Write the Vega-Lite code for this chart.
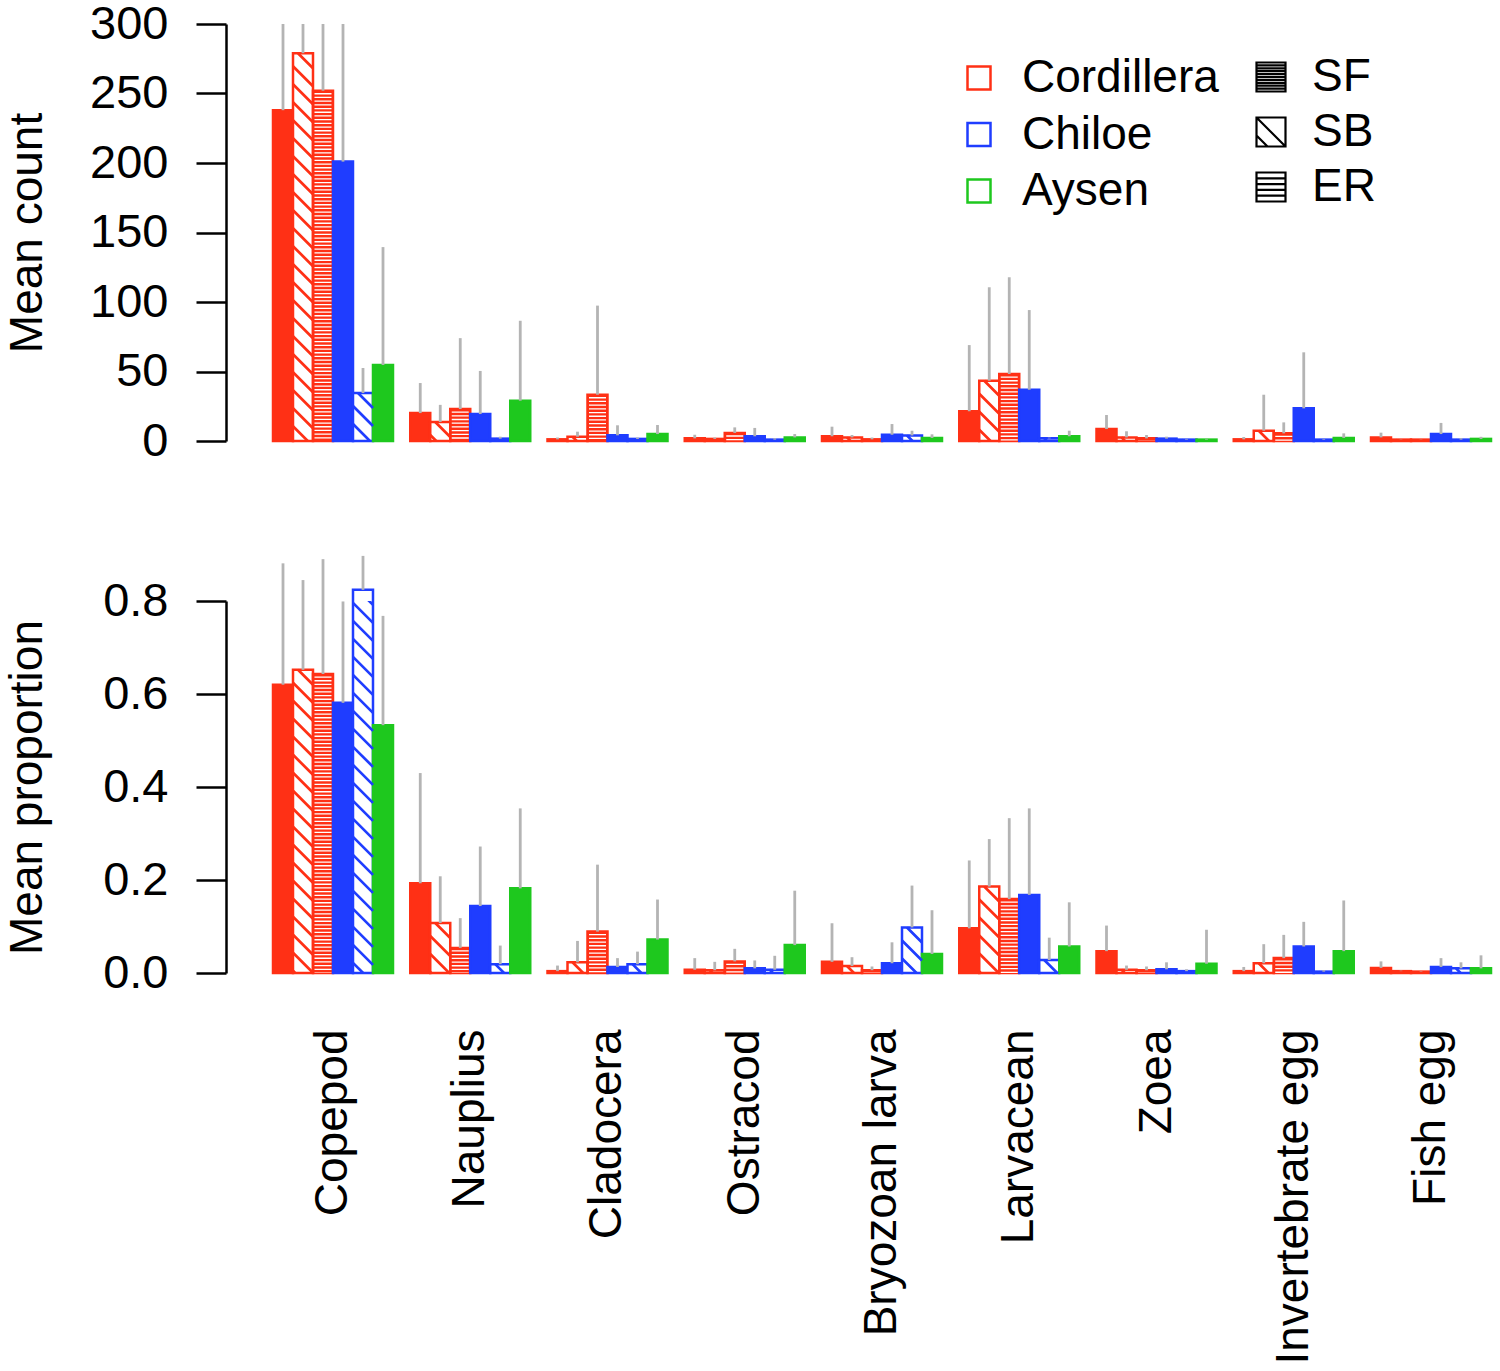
{
  "$schema": "https://vega.github.io/schema/vega-lite/v6.json",
  "background": "white",
  "padding": {"left": 4, "top": 0, "right": 0, "bottom": 0},
  "config": {
    "font": "Liberation Sans",
    "view": {"stroke": null},
    "axis": {
      "labelFontSize": 47, "titleFontSize": 46, "titleFontWeight": "normal",
      "labelColor": "black", "titleColor": "black", "grid": false,
      "domainColor": "black", "tickColor": "black", "domainWidth": 2.5, "tickWidth": 2.5
    },
    "legend": {"labelFontSize": 46, "labelColor": "black", "labelFont": "Liberation Sans", "labelLimit": 0}
  },
  "datasets": {
    "zoo": [
      {"taxon": "Copepod", "region": "Cordillera", "site": "SF", "series": "Cordillera SF", "count": 238, "count_hi": 330, "prop": 0.62, "prop_hi": 0.881},
      {"taxon": "Copepod", "region": "Cordillera", "site": "SB", "series": "Cordillera SB", "count": 279, "count_hi": 340, "prop": 0.652, "prop_hi": 0.845},
      {"taxon": "Copepod", "region": "Cordillera", "site": "ER", "series": "Cordillera ER", "count": 252, "count_hi": 335, "prop": 0.643, "prop_hi": 0.89},
      {"taxon": "Copepod", "region": "Chiloe", "site": "SF", "series": "Chiloe SF", "count": 201, "count_hi": 360, "prop": 0.581, "prop_hi": 0.799},
      {"taxon": "Copepod", "region": "Chiloe", "site": "SB", "series": "Chiloe SB", "count": 34.5, "count_hi": 52.5, "prop": 0.824, "prop_hi": 0.897},
      {"taxon": "Copepod", "region": "Aysen", "site": "SF", "series": "Aysen SF", "count": 54.7, "count_hi": 139.5, "prop": 0.533, "prop_hi": 0.768},

      {"taxon": "Nauplius", "region": "Cordillera", "site": "SF", "series": "Cordillera SF", "count": 20.1, "count_hi": 41.7, "prop": 0.193, "prop_hi": 0.43},
      {"taxon": "Nauplius", "region": "Cordillera", "site": "SB", "series": "Cordillera SB", "count": 13.7, "count_hi": 26, "prop": 0.1075, "prop_hi": 0.208},
      {"taxon": "Nauplius", "region": "Cordillera", "site": "ER", "series": "Cordillera ER", "count": 23, "count_hi": 74, "prop": 0.054, "prop_hi": 0.118},
      {"taxon": "Nauplius", "region": "Chiloe", "site": "SF", "series": "Chiloe SF", "count": 19.4, "count_hi": 50.4, "prop": 0.144, "prop_hi": 0.272},
      {"taxon": "Nauplius", "region": "Chiloe", "site": "SB", "series": "Chiloe SB", "count": 1.7, "count_hi": 3.1, "prop": 0.019, "prop_hi": 0.059},
      {"taxon": "Nauplius", "region": "Aysen", "site": "SF", "series": "Aysen SF", "count": 29, "count_hi": 86.5, "prop": 0.182, "prop_hi": 0.354},

      {"taxon": "Cladocera", "region": "Cordillera", "site": "SF", "series": "Cordillera SF", "count": 1.2, "count_hi": 2.5, "prop": 0.004, "prop_hi": 0.016},
      {"taxon": "Cladocera", "region": "Cordillera", "site": "SB", "series": "Cordillera SB", "count": 3.1, "count_hi": 6.7, "prop": 0.023, "prop_hi": 0.069},
      {"taxon": "Cladocera", "region": "Cordillera", "site": "ER", "series": "Cordillera ER", "count": 33.3, "count_hi": 97.4, "prop": 0.089, "prop_hi": 0.233},
      {"taxon": "Cladocera", "region": "Chiloe", "site": "SF", "series": "Chiloe SF", "count": 4.1, "count_hi": 11.3, "prop": 0.013, "prop_hi": 0.032},
      {"taxon": "Cladocera", "region": "Chiloe", "site": "SB", "series": "Chiloe SB", "count": 1.5, "count_hi": 2.5, "prop": 0.019, "prop_hi": 0.046},
      {"taxon": "Cladocera", "region": "Aysen", "site": "SF", "series": "Aysen SF", "count": 5, "count_hi": 11.5, "prop": 0.072, "prop_hi": 0.158},

      {"taxon": "Ostracod", "region": "Cordillera", "site": "SF", "series": "Cordillera SF", "count": 1.9, "count_hi": 4.5, "prop": 0.007, "prop_hi": 0.032},
      {"taxon": "Ostracod", "region": "Cordillera", "site": "SB", "series": "Cordillera SB", "count": 1.5, "count_hi": 2.5, "prop": 0.006, "prop_hi": 0.024},
      {"taxon": "Ostracod", "region": "Cordillera", "site": "ER", "series": "Cordillera ER", "count": 5.8, "count_hi": 9.8, "prop": 0.025, "prop_hi": 0.052},
      {"taxon": "Ostracod", "region": "Chiloe", "site": "SF", "series": "Chiloe SF", "count": 3.4, "count_hi": 9.4, "prop": 0.01, "prop_hi": 0.027},
      {"taxon": "Ostracod", "region": "Chiloe", "site": "SB", "series": "Chiloe SB", "count": 1, "count_hi": 2, "prop": 0.007, "prop_hi": 0.037},
      {"taxon": "Ostracod", "region": "Aysen", "site": "SF", "series": "Aysen SF", "count": 2.6, "count_hi": 5, "prop": 0.06, "prop_hi": 0.177},

      {"taxon": "Bryozoan larva", "region": "Cordillera", "site": "SF", "series": "Cordillera SF", "count": 3.4, "count_hi": 10.3, "prop": 0.024, "prop_hi": 0.107},
      {"taxon": "Bryozoan larva", "region": "Cordillera", "site": "SB", "series": "Cordillera SB", "count": 2.6, "count_hi": 4.3, "prop": 0.015, "prop_hi": 0.034},
      {"taxon": "Bryozoan larva", "region": "Cordillera", "site": "ER", "series": "Cordillera ER", "count": 1.2, "count_hi": 2.5, "prop": 0.006, "prop_hi": 0.014},
      {"taxon": "Bryozoan larva", "region": "Chiloe", "site": "SF", "series": "Chiloe SF", "count": 4.5, "count_hi": 12.2, "prop": 0.021, "prop_hi": 0.066},
      {"taxon": "Bryozoan larva", "region": "Chiloe", "site": "SB", "series": "Chiloe SB", "count": 4, "count_hi": 7.4, "prop": 0.098, "prop_hi": 0.188},
      {"taxon": "Bryozoan larva", "region": "Aysen", "site": "SF", "series": "Aysen SF", "count": 2.2, "count_hi": 4.8, "prop": 0.041, "prop_hi": 0.135},

      {"taxon": "Larvacean", "region": "Cordillera", "site": "SF", "series": "Cordillera SF", "count": 21.4, "count_hi": 69, "prop": 0.096, "prop_hi": 0.242},
      {"taxon": "Larvacean", "region": "Cordillera", "site": "SB", "series": "Cordillera SB", "count": 43.4, "count_hi": 110.6, "prop": 0.186, "prop_hi": 0.288},
      {"taxon": "Larvacean", "region": "Cordillera", "site": "ER", "series": "Cordillera ER", "count": 48.2, "count_hi": 117.8, "prop": 0.159, "prop_hi": 0.333},
      {"taxon": "Larvacean", "region": "Chiloe", "site": "SF", "series": "Chiloe SF", "count": 36.9, "count_hi": 94.2, "prop": 0.168, "prop_hi": 0.354},
      {"taxon": "Larvacean", "region": "Chiloe", "site": "SB", "series": "Chiloe SB", "count": 1.9, "count_hi": 2.4, "prop": 0.028, "prop_hi": 0.076},
      {"taxon": "Larvacean", "region": "Aysen", "site": "SF", "series": "Aysen SF", "count": 3.4, "count_hi": 7.4, "prop": 0.057, "prop_hi": 0.152},

      {"taxon": "Zoea", "region": "Cordillera", "site": "SF", "series": "Cordillera SF", "count": 8.6, "count_hi": 18.7, "prop": 0.047, "prop_hi": 0.102},
      {"taxon": "Zoea", "region": "Cordillera", "site": "SB", "series": "Cordillera SB", "count": 2.6, "count_hi": 7, "prop": 0.007, "prop_hi": 0.016},
      {"taxon": "Zoea", "region": "Cordillera", "site": "ER", "series": "Cordillera ER", "count": 1.9, "count_hi": 4.3, "prop": 0.006, "prop_hi": 0.014},
      {"taxon": "Zoea", "region": "Chiloe", "site": "SF", "series": "Chiloe SF", "count": 1.7, "count_hi": 3.1, "prop": 0.008, "prop_hi": 0.023},
      {"taxon": "Zoea", "region": "Chiloe", "site": "SB", "series": "Chiloe SB", "count": 1, "count_hi": 1.5, "prop": 0.004, "prop_hi": 0.008},
      {"taxon": "Zoea", "region": "Aysen", "site": "SF", "series": "Aysen SF", "count": 1, "count_hi": 1.5, "prop": 0.02, "prop_hi": 0.093},

      {"taxon": "Invertebrate egg", "region": "Cordillera", "site": "SF", "series": "Cordillera SF", "count": 1.2, "count_hi": 2.9, "prop": 0.004, "prop_hi": 0.013},
      {"taxon": "Invertebrate egg", "region": "Cordillera", "site": "SB", "series": "Cordillera SB", "count": 7.4, "count_hi": 33.3, "prop": 0.021, "prop_hi": 0.062},
      {"taxon": "Invertebrate egg", "region": "Cordillera", "site": "ER", "series": "Cordillera ER", "count": 5.5, "count_hi": 13.4, "prop": 0.032, "prop_hi": 0.082},
      {"taxon": "Invertebrate egg", "region": "Chiloe", "site": "SF", "series": "Chiloe SF", "count": 23.5, "count_hi": 63.8, "prop": 0.057, "prop_hi": 0.11},
      {"taxon": "Invertebrate egg", "region": "Chiloe", "site": "SB", "series": "Chiloe SB", "count": 1, "count_hi": 1.5, "prop": 0.003, "prop_hi": 0.006},
      {"taxon": "Invertebrate egg", "region": "Aysen", "site": "SF", "series": "Aysen SF", "count": 2.2, "count_hi": 5.5, "prop": 0.047, "prop_hi": 0.156},

      {"taxon": "Fish egg", "region": "Cordillera", "site": "SF", "series": "Cordillera SF", "count": 2.6, "count_hi": 6, "prop": 0.011, "prop_hi": 0.025},
      {"taxon": "Fish egg", "region": "Cordillera", "site": "SB", "series": "Cordillera SB", "count": 1, "count_hi": 1.2, "prop": 0.004, "prop_hi": 0.005},
      {"taxon": "Fish egg", "region": "Cordillera", "site": "ER", "series": "Cordillera ER", "count": 1, "count_hi": 1.2, "prop": 0.003, "prop_hi": 0.004},
      {"taxon": "Fish egg", "region": "Chiloe", "site": "SF", "series": "Chiloe SF", "count": 5, "count_hi": 13, "prop": 0.013, "prop_hi": 0.032},
      {"taxon": "Fish egg", "region": "Chiloe", "site": "SB", "series": "Chiloe SB", "count": 1, "count_hi": 2, "prop": 0.01, "prop_hi": 0.023},
      {"taxon": "Fish egg", "region": "Aysen", "site": "SF", "series": "Aysen SF", "count": 1.5, "count_hi": 3, "prop": 0.01, "prop_hi": 0.038}
    ]
  },
  "resolve": {"scale": {"fill": "independent", "stroke": "independent", "shape": "independent", "color": "independent"}},
  "bounds": "flush",
  "spacing": 160,
  "vconcat": [
    {
      "width": 1218,
      "height": 417,
      "data": {"name": "zoo"},
      "encoding": {
        "x": {
          "field": "taxon", "type": "nominal", "axis": null,
          "scale": {"domain": ["Copepod", "Nauplius", "Cladocera", "Ostracod", "Bryozoan larva", "Larvacean", "Zoea", "Invertebrate egg", "Fish egg"], "paddingInner": 0.1257, "paddingOuter": 0}
        },
        "xOffset": {
          "field": "series", "type": "nominal",
          "scale": {"domain": ["Cordillera SF", "Cordillera SB", "Cordillera ER", "Chiloe SF", "Chiloe SB", "Aysen SF"], "paddingInner": 0, "paddingOuter": 0}
        },
        "y": {
          "field": "count", "type": "quantitative", "stack": null,
          "scale": {"domain": [0, 300], "nice": false, "clamp": true},
          "axis": {"title": "Mean count", "values": [0, 50, 100, 150, 200, 250, 300], "offset": 47, "tickSize": 30, "labelPadding": 28, "titlePadding": 38}
        }
      },
      "layer": [
        {
          "mark": {"type": "bar", "strokeWidth": 2.5, "opacity": 1},
          "encoding": {
            "fill": {
              "condition": [
                {"test": "datum.site === 'SB'", "value": "white"},
                {"test": "datum.region === 'Cordillera'", "value": "#ff3015"},
                {"test": "datum.region === 'Chiloe'", "value": "#1f3dff"}
              ],
              "value": "#1ec81e"
            },
            "stroke": {
              "condition": [
                {"test": "datum.region === 'Cordillera'", "value": "#ff3015"},
                {"test": "datum.region === 'Chiloe'", "value": "#1f3dff"}
              ],
              "value": "#1ec81e"
            }
          }
        },
        {
          "transform": [{"filter": "datum.site === 'ER'"}],
          "mark": {"type": "rule", "color": "white", "strokeWidth": 17, "strokeDash": [1.3, 2.4], "strokeDashOffset": 1.3},
          "encoding": {"y2": {"datum": 0}}
        },
        {
          "transform": [{"filter": "datum.site === 'SB'"}],
          "mark": {"type": "point", "clip": true, "filled": false, "size": 400, "strokeWidth": 2.7, "opacity": 1,
            "shape": "M-0.5,0L1,1.5M-1,1.3L1,3.3M-1,3.1L1,5.1M-1,4.9L1,6.9M-1,6.7L1,8.7M-1,8.5L1,10.5M-1,10.3L1,12.3M-1,12.1L1,14.1M-1,13.9L1,15.9M-1,15.7L1,17.7M-1,17.5L1,19.5M-1,19.3L1,21.3M-1,21.1L1,23.1M-1,22.9L1,24.9M-1,24.7L1,26.7M-1,26.5L1,28.5M-1,28.3L1,30.3M-1,30.1L1,32.1M-1,31.9L1,33.9M-1,33.7L1,35.7M-1,35.5L1,37.5M-1,37.3L1,39.3M-1,39.1L1,41.1"},
          "encoding": {
            "stroke": {
              "condition": [
                {"test": "datum.region === 'Cordillera'", "value": "#ff3015"},
                {"test": "datum.region === 'Chiloe'", "value": "#1f3dff"}
              ],
              "value": "#1ec81e"
            }
          }
        },
        {
          "mark": {"type": "rule", "color": "#b4b4b4", "strokeWidth": 2.8},
          "encoding": {"y2": {"field": "count_hi"}}
        },
        {
          "mark": {"type": "point", "filled": false, "strokeWidth": 2.5, "opacity": 0},
          "encoding": {
            "stroke": {
              "field": "region", "type": "nominal",
              "scale": {"domain": ["Cordillera", "Chiloe", "Aysen"], "range": ["#ff3015", "#1f3dff", "#1ec81e"]},
              "legend": {"title": null, "orient": "none", "legendX": 683, "legendY": 31, "symbolType": "square", "symbolSize": 529, "symbolStrokeWidth": 2.5, "symbolOpacity": 1, "labelOffset": 20, "rowPadding": 10.5}
            }
          }
        },
        {
          "mark": {"type": "point", "filled": false, "stroke": "black", "strokeWidth": 2.2, "opacity": 0},
          "encoding": {
            "shape": {
              "field": "site", "type": "nominal",
              "scale": {"domain": ["SF", "SB", "ER"], "range": [
                "M-1,-1H1V1H-1ZM-1,-0.8H1M-1,-0.6H1M-1,-0.4H1M-1,-0.2H1M-1,0H1M-1,0.2H1M-1,0.4H1M-1,0.6H1M-1,0.8H1",
                "M-1,-1H1V1H-1ZM-1,-1L1,1M-1,0.24L-0.24,1",
                "M-1,-1H1V1H-1ZM-1,-0.6H1M-1,-0.2H1M-1,0.2H1M-1,0.6H1"
              ]},
              "legend": {"title": null, "orient": "none", "legendX": 975, "legendY": 30, "symbolSize": 841, "symbolStrokeWidth": 2.2, "symbolOpacity": 1, "symbolStrokeColor": "black", "labelOffset": 18, "rowPadding": 9}
            }
          }
        }
      ]
    },
    {
      "width": 1218,
      "height": 372,
      "data": {"name": "zoo"},
      "encoding": {
        "x": {
          "field": "taxon", "type": "nominal",
          "scale": {"domain": ["Copepod", "Nauplius", "Cladocera", "Ostracod", "Bryozoan larva", "Larvacean", "Zoea", "Invertebrate egg", "Fish egg"], "paddingInner": 0.1257, "paddingOuter": 0},
          "axis": {"title": null, "labelAngle": -90, "labelPadding": 56, "ticks": false, "domain": false, "labelLimit": 0, "labelFontSize": 46}
        },
        "xOffset": {
          "field": "series", "type": "nominal",
          "scale": {"domain": ["Cordillera SF", "Cordillera SB", "Cordillera ER", "Chiloe SF", "Chiloe SB", "Aysen SF"], "paddingInner": 0, "paddingOuter": 0}
        },
        "y": {
          "field": "prop", "type": "quantitative", "stack": null,
          "scale": {"domain": [0, 0.8], "nice": false},
          "axis": {"title": "Mean proportion", "values": [0, 0.2, 0.4, 0.6, 0.8], "format": ".1f", "offset": 47, "tickSize": 30, "labelPadding": 28, "titlePadding": 51}
        }
      },
      "layer": [
        {
          "mark": {"type": "bar", "strokeWidth": 2.5, "opacity": 1},
          "encoding": {
            "fill": {
              "condition": [
                {"test": "datum.site === 'SB'", "value": "white"},
                {"test": "datum.region === 'Cordillera'", "value": "#ff3015"},
                {"test": "datum.region === 'Chiloe'", "value": "#1f3dff"}
              ],
              "value": "#1ec81e"
            },
            "stroke": {
              "condition": [
                {"test": "datum.region === 'Cordillera'", "value": "#ff3015"},
                {"test": "datum.region === 'Chiloe'", "value": "#1f3dff"}
              ],
              "value": "#1ec81e"
            }
          }
        },
        {
          "transform": [{"filter": "datum.site === 'ER'"}],
          "mark": {"type": "rule", "color": "white", "strokeWidth": 17, "strokeDash": [1.3, 2.4], "strokeDashOffset": 1.3},
          "encoding": {"y2": {"datum": 0}}
        },
        {
          "transform": [{"filter": "datum.site === 'SB'"}],
          "mark": {"type": "point", "clip": true, "filled": false, "size": 400, "strokeWidth": 2.7, "opacity": 1,
            "shape": "M-0.5,0L1,1.5M-1,1.3L1,3.3M-1,3.1L1,5.1M-1,4.9L1,6.9M-1,6.7L1,8.7M-1,8.5L1,10.5M-1,10.3L1,12.3M-1,12.1L1,14.1M-1,13.9L1,15.9M-1,15.7L1,17.7M-1,17.5L1,19.5M-1,19.3L1,21.3M-1,21.1L1,23.1M-1,22.9L1,24.9M-1,24.7L1,26.7M-1,26.5L1,28.5M-1,28.3L1,30.3M-1,30.1L1,32.1M-1,31.9L1,33.9M-1,33.7L1,35.7M-1,35.5L1,37.5M-1,37.3L1,39.3M-1,39.1L1,41.1"},
          "encoding": {
            "stroke": {
              "condition": [
                {"test": "datum.region === 'Cordillera'", "value": "#ff3015"},
                {"test": "datum.region === 'Chiloe'", "value": "#1f3dff"}
              ],
              "value": "#1ec81e"
            }
          }
        },
        {
          "mark": {"type": "rule", "color": "#b4b4b4", "strokeWidth": 2.8},
          "encoding": {"y2": {"field": "prop_hi"}}
        }
      ]
    }
  ]
}
